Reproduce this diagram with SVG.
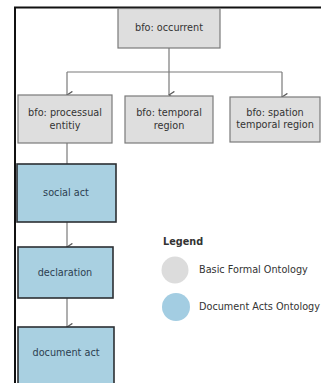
<svg xmlns="http://www.w3.org/2000/svg" width="321" height="383" viewBox="0 0 321 383">
<style>
.bfo{fill:#dedede;stroke:#7a7a7a;stroke-width:1.2}
.doa{fill:#a9d0e1;stroke:#2b2f33;stroke-width:1.6}
.t{font-family:"DejaVu Sans",Verdana,sans-serif;font-size:9.7px;fill:#333;text-anchor:middle}
.td{font-family:"DejaVu Sans",Verdana,sans-serif;font-size:9.7px;fill:#2c3e50;text-anchor:middle}
.lg{font-family:"DejaVu Sans",Verdana,sans-serif;font-size:9.7px;fill:#333}
.c{fill:none;stroke:#7a7a7a;stroke-width:1.2}
</style>
<defs>
<marker id="a" viewBox="0 0 10 10" refX="5" refY="9" markerWidth="9" markerHeight="9" orient="auto-start-reverse" markerUnits="userSpaceOnUse">
<path d="M1,3 L5,9 L9,3" fill="none" stroke="#5a5a5a" stroke-width="1.4"/>
</marker>
</defs>
<rect width="321" height="383" fill="#fff"/>
<path d="M15,383 V7.5 H321" fill="none" stroke="#111" stroke-width="2"/>
<g id="connectors">
<path class="c" d="M169,48 V72"/>
<path class="c" d="M67,72 H282"/>
<path class="c" d="M67,72 V95" marker-end="url(#a)"/>
<path class="c" d="M169,72 V95" marker-end="url(#a)"/>
<path class="c" d="M282,72 V97" marker-end="url(#a)"/>
<path class="c" d="M67,143 V164"/>
<path class="c" d="M67,222 V247" marker-end="url(#a)"/>
<path class="c" d="M67,298 V327" marker-end="url(#a)"/>
</g>
<g id="occurrent"><rect class="bfo" x="118" y="8.5" width="102" height="39.5"/><text class="t" x="169" y="31">bfo: occurrent</text></g>
<g id="processual"><rect class="bfo" x="18" y="95" width="94" height="48"/><text class="t" x="65" y="116">bfo: processual</text><text class="t" x="65" y="129">entitiy</text></g>
<g id="temporal"><rect class="bfo" x="125" y="96" width="88" height="47"/><text class="t" x="169" y="116">bfo: temporal</text><text class="t" x="169" y="129">region</text></g>
<g id="spatiotemporal"><rect class="bfo" x="230" y="97" width="90" height="45"/><text class="t" x="275" y="116">bfo: spation</text><text class="t" x="275" y="128">temporal region</text></g>
<g id="socialact"><rect class="doa" x="17" y="164" width="99" height="58"/><text class="td" x="66" y="196">social act</text></g>
<g id="declaration"><rect class="doa" x="18" y="247" width="95" height="51"/><text class="td" x="65" y="276">declaration</text></g>
<g id="documentact"><rect class="doa" x="18" y="327" width="96" height="58"/><text class="td" x="66" y="356">document act</text></g>
<g id="legend">
<text class="lg" x="163" y="245" font-weight="bold">Legend</text>
<circle cx="175" cy="270" r="13.5" fill="#dcdcdc"/>
<text class="lg" x="199" y="273">Basic Formal Ontology</text>
<circle cx="176" cy="307" r="14" fill="#a3cde2"/>
<text class="lg" x="199" y="310">Document Acts Ontology</text>
</g>
</svg>
